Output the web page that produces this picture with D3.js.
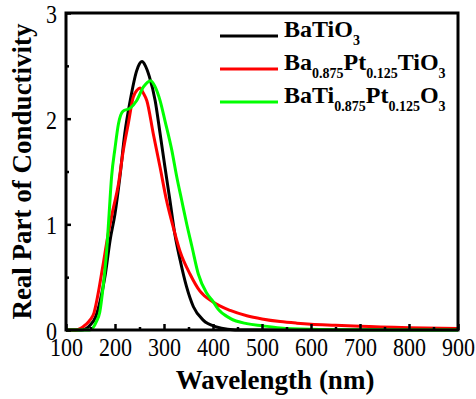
<!DOCTYPE html>
<html>
<head>
	<meta charset="utf-8" />
	<title>Real Part of Conductivity</title>
	<script src="https://d3js.org/d3.v7.min.js"></script>
	<style type="text/css">
		body { margin: 0; background: #fff; }
		text { font-family: "Liberation Serif", "Times New Roman", serif; fill: #000; }
	</style>
</head>
<body>
	<div id="chart"></div>
	<script>
		// wavelength (nm) / real part of conductivity
		const batioW = [100, 130, 140, 150, 160, 170, 180, 190, 200, 210, 220, 231, 244, 250, 255, 262, 270, 282, 292, 302, 312, 322, 333, 346, 360, 380, 407, 430, 460, 900];
		const batioV = [0, 0, 0.01, 0.05, 0.12, 0.28, 0.52, 0.85, 1.1, 1.45, 1.86, 2.17, 2.45, 2.52, 2.54, 2.5, 2.4, 2.17, 1.86, 1.54, 1.23, 0.91, 0.66, 0.41, 0.22, 0.094, 0.03, 0.008, 0, 0];

		const baptW = [100, 120, 130, 140, 150, 157, 165, 175, 185, 195, 207, 217, 227, 237, 245, 251, 258, 265, 278, 292, 305, 319, 333, 353, 373, 400, 435, 469, 500, 537, 571, 600, 650, 700, 800, 900];
		const baptV = [0, 0, 0.015, 0.05, 0.1, 0.16, 0.33, 0.6, 0.88, 1.12, 1.38, 1.7, 1.95, 2.2, 2.27, 2.29, 2.24, 2.17, 1.86, 1.54, 1.23, 0.97, 0.74, 0.53, 0.37, 0.265, 0.185, 0.135, 0.105, 0.08, 0.065, 0.055, 0.045, 0.035, 0.022, 0.014];

		const batiptW = [100, 148, 155, 162, 169, 176, 183, 188, 193, 200, 207, 216, 231, 244, 258, 273, 282, 292, 302, 316, 326, 336, 346, 357, 370, 387, 400, 410, 435, 469, 500, 537, 600, 700, 900];
		const batiptV = [0, 0, 0.02, 0.08, 0.17, 0.42, 0.75, 1.1, 1.45, 1.72, 1.95, 2.07, 2.1, 2.17, 2.3, 2.36, 2.3, 2.17, 1.98, 1.7, 1.45, 1.23, 1.01, 0.79, 0.53, 0.35, 0.27, 0.2, 0.11, 0.06, 0.04, 0.02, 0.008, 0.003, 0];

		const xTicks = [100, 200, 300, 400, 500, 600, 700, 800, 900];
		const xMinor = [150, 250, 350, 450, 550, 650, 750, 850];
		const yTicks = [0, 1, 2, 3];
		const yMinor = [0.5, 1.5, 2.5];

		const series = [
			{ w: batioW, v: batioV, color: "#000000", label: [["BaTiO", ""], ["3", "sub"]] },
			{ w: baptW, v: baptV, color: "#ff0000", label: [["Ba", ""], ["0.875", "sub"], ["Pt", ""], ["0.125", "sub"], ["TiO", ""], ["3", "sub"]] },
			{ w: batiptW, v: batiptV, color: "#00ff00", label: [["BaTi", ""], ["0.875", "sub"], ["Pt", ""], ["0.125", "sub"], ["O", ""], ["3", "sub"]] }
		];

		const width = 476;
		const height = 399;
		const margin = { left: 66, right: 18, top: 13, bottom: 69 };

		const svg = d3.select("#chart")
			.append("svg")
			.attr("width", width)
			.attr("height", height);

		const x = d3.scaleLinear()
			.domain([100, 900])
			.range([margin.left, width - margin.right]);

		const y = d3.scaleLinear()
			.domain([0, 3])
			.range([height - margin.bottom, margin.top]);

		// curves
		const line = d3.line()
			.x((d) => x(d[0]))
			.y((d) => y(d[1]))
			.curve(d3.curveMonotoneX);

		series.forEach((s) => {
			svg.append("path")
				.datum(s.w.map((w, i) => [w, s.v[i]]))
				.attr("d", line)
				.attr("fill", "none")
				.attr("stroke", s.color)
				.attr("stroke-width", 3);
		});

		// axes, ticks pointing inward
		const xAxis = svg.append("g")
			.attr("transform", "translate(0," + y(0) + ")")
			.call(d3.axisBottom(x).tickValues(xTicks).tickSize(-6).tickFormat(d3.format("d")));
		svg.append("g")
			.attr("transform", "translate(0," + y(0) + ")")
			.call(d3.axisBottom(x).tickValues(xMinor).tickSize(-3).tickFormat(""));

		const yAxis = svg.append("g")
			.attr("transform", "translate(" + x(100) + ",0)")
			.call(d3.axisLeft(y).tickValues(yTicks).tickSize(-5).tickFormat(d3.format("d")));
		svg.append("g")
			.attr("transform", "translate(" + x(100) + ",0)")
			.call(d3.axisLeft(y).tickValues(yMinor).tickSize(-3).tickFormat(""));

		svg.selectAll(".domain").remove();
		svg.selectAll(".tick line").attr("stroke", "#000").attr("stroke-width", 2.5);

		// tick numbers are tall and narrow in the original
		xAxis.selectAll(".tick text")
			.attr("y", null)
			.attr("dy", null)
			.attr("transform", "translate(0,26) scale(0.88,1)")
			.style("font-size", "25px");
		yAxis.selectAll(".tick text")
			.attr("x", null)
			.attr("dy", null)
			.attr("transform", "translate(-9,9.5) scale(0.88,1)")
			.style("font-size", "25px");

		// frame
		svg.append("rect")
			.attr("x", x(100))
			.attr("y", y(3))
			.attr("width", x(900) - x(100))
			.attr("height", y(0) - y(3))
			.attr("fill", "none")
			.attr("stroke", "#000")
			.attr("stroke-width", 3);

		// axis titles
		svg.append("text")
			.attr("x", 275)
			.attr("y", 389)
			.attr("text-anchor", "middle")
			.style("font-weight", "bold")
			.style("font-size", "27px")
			.text("Wavelength (nm)");

		svg.append("text")
			.attr("transform", "translate(31," + (y(0) + y(3)) / 2 + ") rotate(-90)")
			.attr("text-anchor", "middle")
			.style("font-weight", "bold")
			.style("font-size", "27px")
			.text("Real Part of Conductivity");

		// legend
		const legend = svg.append("g");
		series.forEach((s, i) => {
			const ly = 36 + i * 33;
			legend.append("line")
				.attr("x1", 220)
				.attr("x2", 278)
				.attr("y1", ly)
				.attr("y2", ly)
				.attr("stroke", s.color)
				.attr("stroke-width", 3);
			const t = legend.append("text")
				.attr("x", 284)
				.attr("y", ly + 9)
				.style("font-weight", "bold")
				.style("font-size", "24px");
			s.label.forEach((p) => {
				t.append("tspan")
					.attr("dy", p[1] === "sub" ? 8 : (t.selectAll("tspan").size() ? -8 : 0))
					.style("font-size", p[1] === "sub" ? "14px" : "24px")
					.text(p[0]);
			});
		});
	</script>
</body>
</html>
